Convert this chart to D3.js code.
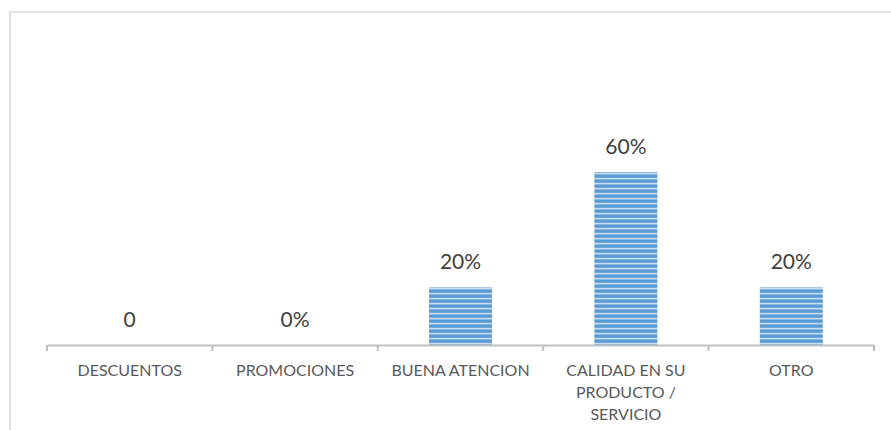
<!DOCTYPE html>
<html><head><meta charset="utf-8">
<script src="https://cdn.jsdelivr.net/npm/d3@7"></script>
<style>html,body{margin:0;padding:0;background:#fff;}svg{display:block;}</style>
</head><body>
<svg id="c" width="891" height="430"></svg>
<script>
const categories = ["DESCUENTOS", "PROMOCIONES", "BUENA ATENCION", "CALIDAD EN SU PRODUCTO / SERVICIO", "OTRO"];
const values = [0, 0, 0.2, 0.6, 0.2];
const valueLabels = ["0", "0%", "20%", "60%", "20%"];

const svg = d3.select("#c");
const font = "Lato, Calibri, 'Open Sans', sans-serif";

// chart border
svg.append("rect").attr("x", 10).attr("y", 12).attr("width", 900).attr("height", 440)
  .attr("fill", "none").attr("stroke", "#d9d9d9").attr("stroke-width", 1.5);

const defs = svg.append("defs");
const pat = defs.append("pattern").attr("id", "stripes").attr("patternUnits", "userSpaceOnUse")
  .attr("width", 10).attr("height", 5).attr("y", 0);
pat.append("rect").attr("width", 10).attr("height", 5).attr("fill", "#5b9bd5");
pat.append("rect").attr("y", 2.8).attr("width", 10).attr("height", 1.6).attr("fill", "#c9def2");

const x = d3.scaleBand().domain(categories).range([47, 874]).paddingInner(0).paddingOuter(0);
const y = d3.scaleLinear().domain([0, 1]).range([345, 57]);
const barW = 63;

svg.append("g").selectAll("rect").data(categories).join("rect")
  .attr("x", d => x(d) + x.bandwidth() / 2 - barW / 2)
  .attr("y", (d, i) => y(values[i]))
  .attr("width", barW)
  .attr("height", (d, i) => y(0) - y(values[i]))
  .attr("fill", "url(#stripes)");

// value labels
svg.append("g").selectAll("text").data(categories).join("text")
  .attr("x", d => x(d) + x.bandwidth() / 2)
  .attr("y", (d, i) => y(values[i]) - 18)
  .attr("text-anchor", "middle")
  .attr("font-family", font).attr("font-size", 21).attr("fill", "#404040")
  .text((d, i) => valueLabels[i]);

// axis
const axis = d3.axisBottom(x).tickSize(0).tickFormat("");
const ga = svg.append("g").attr("transform", `translate(0,${y(0)})`).call(axis);
ga.select(".domain").attr("stroke", "#bfbfbf").attr("stroke-width", 2);
// tick marks at category boundaries
const bounds = categories.map(c => x(c)).concat([x.range()[1]]);
ga.selectAll("line.b").data(bounds).join("line").attr("class", "b")
  .attr("x1", d => d).attr("x2", d => d).attr("y1", 0).attr("y2", 6)
  .attr("stroke", "#bfbfbf").attr("stroke-width", 2);

// category labels with wrapping
const catSize = 16;
const maxW = 145;
const tmp = svg.append("text").attr("font-family", font).attr("font-size", catSize);
function wrap(str) {
  const words = str.split(" ");
  const lines = [];
  let cur = "";
  words.forEach(w => {
    const t = cur ? cur + " " + w : w;
    tmp.text(t);
    if (tmp.node().getComputedTextLength() > maxW && cur) { lines.push(cur); cur = w; }
    else cur = t;
  });
  if (cur) lines.push(cur);
  return lines;
}
const labG = svg.append("g");
categories.forEach(c => {
  const lines = wrap(c);
  const t = labG.append("text").attr("text-anchor", "middle")
    .attr("font-family", font).attr("font-size", catSize).attr("fill", "#595959");
  lines.forEach((l, i) => t.append("tspan").attr("x", x(c) + x.bandwidth() / 2)
    .attr("y", y(0) + 30.5 + i * 22).text(l));
});
tmp.remove();
</script>
</body></html>
